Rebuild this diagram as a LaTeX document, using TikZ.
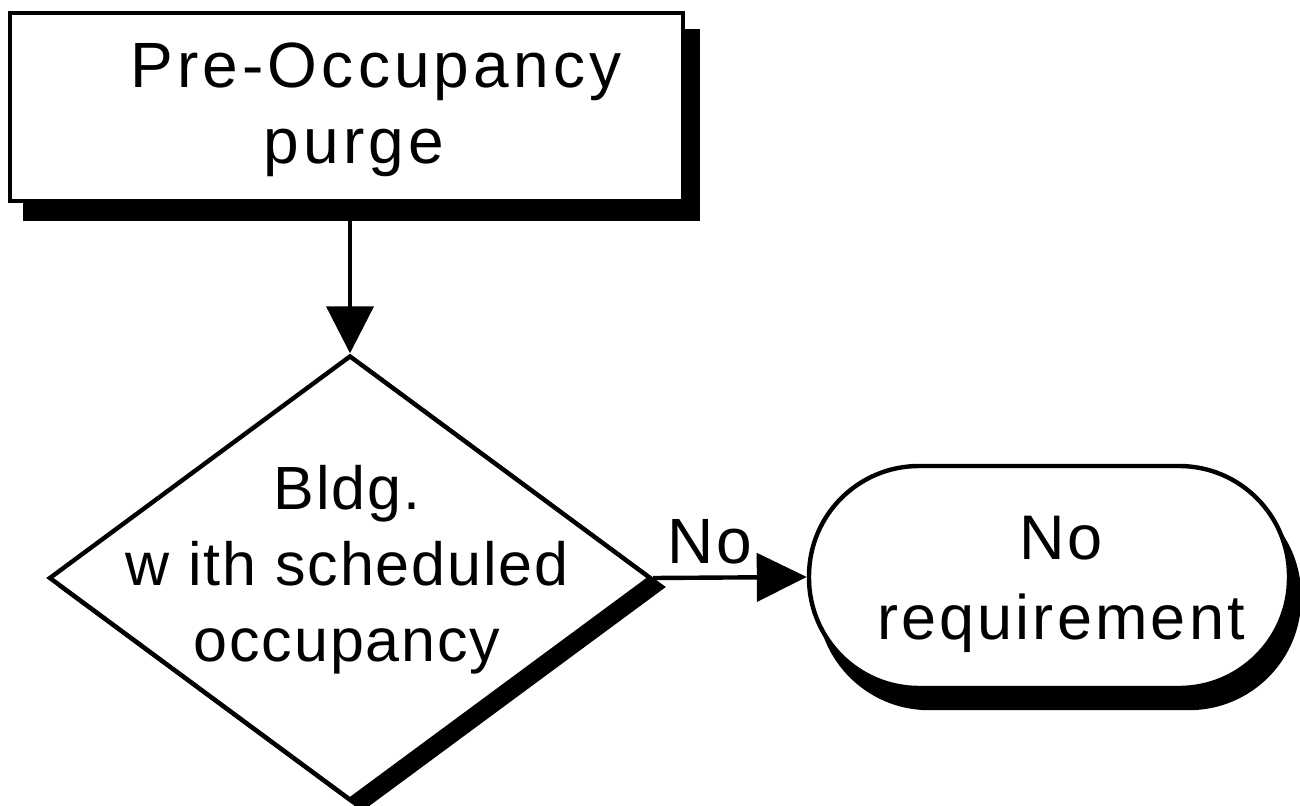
\documentclass[tikz,border=0pt]{standalone}
\usepackage{fontspec}
\setmainfont{Liberation Sans}
\newfontfamily\lsA[LetterSpace=6.5]{Liberation Sans}
\newfontfamily\lsB[LetterSpace=5]{Liberation Sans}
\newfontfamily\lsC[LetterSpace=3]{Liberation Sans}
\usetikzlibrary{arrows.meta,shapes.geometric}
\begin{document}
\begin{tikzpicture}[x=0.5pt,y=-0.5pt,
  txt/.style={align=center, inner sep=0pt},
  outl/.style={draw, line width=2.2pt, fill=white, inner sep=0pt},
  shad/.style={draw, line width=2.2pt, fill=black, inner sep=0pt},
  rectbox/.style={rectangle, minimum width=336.5pt, minimum height=94pt},
  diabox/.style={diamond, minimum width=301pt, minimum height=222.5pt},
  stadbox/.style={rectangle, rounded corners=55pt, minimum width=240pt, minimum height=111pt},
  arr/.style={line width=2.2pt, -{Triangle[length=23.5pt,width=23.5pt]}},
  arrh/.style={line width=2.2pt, -{Triangle[length=25pt,width=24pt]}}]
\useasboundingbox (0,0) rectangle (1300,806);
% shadows
\node[shad, rectbox] (rectS) at (361.5,125) {};
\node[shad, diabox] (diaS) at (362,587) {};
\node[shad, stadbox] (stadS) at (1059,597) {};
% main shapes
\node[outl, rectbox] (rect) at (346.5,107) {};
\node[txt, font=\lsA\fontsize{32}{38}\selectfont] (rectT) at (354,110) {\hspace*{22pt}Pre-Occupancy\\purge};
\node[outl, diabox] (dia) at (350,578) {};
\node[txt, font=\lsC\fontsize{30.5}{38}\selectfont] (diaT) at (347,570) {Bldg.\\w ith scheduled\\occupancy};
\node[outl, stadbox] (stad) at (1049,577) {};
\node[txt, font=\lsB\fontsize{31.5}{40}\selectfont] (stadT) at (1061,584) {No\\requirement};
% connectors
\draw[arr] (dia.north |- rect.south) -- (dia.north);
\draw[arrh] (dia.east) -- (stad.west);
\node[txt, font=\lsB\fontsize{32}{38}\selectfont] (lblNo) at (710,542) {No};
\end{tikzpicture}
\end{document}
